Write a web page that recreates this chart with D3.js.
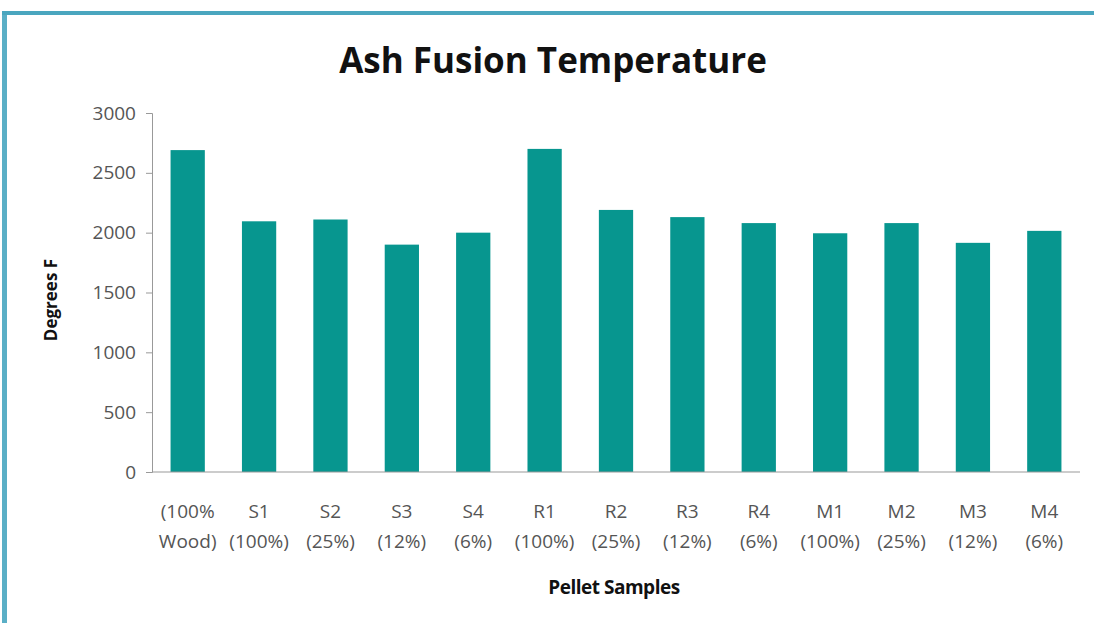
<!DOCTYPE html>
<html>
<head>
<meta charset="utf-8" />
<style>
body {
	margin: 0;
	background: #fff;
	font-family: "Open Sans", Arial;
}
.tick text {
	fill: #555;
	font-size: 19px;
}
.bar {
	fill: #07968f;
}
</style>
</head>
<body>
<script src="https://d3js.org/d3.v7.min.js"></script>
<script>
var samples = ["(100% Wood)", "S1 (100%)", "S2 (25%)", "S3 (12%)", "S4 (6%)",
    "R1 (100%)", "R2 (25%)", "R3 (12%)", "R4 (6%)",
    "M1 (100%)", "M2 (25%)", "M3 (12%)", "M4 (6%)"];
var labelTop = ["(100%", "S1", "S2", "S3", "S4", "R1", "R2", "R3", "R4", "M1", "M2", "M3", "M4"];
var labelBottom = ["Wood)", "(100%)", "(25%)", "(12%)", "(6%)", "(100%)", "(25%)", "(12%)", "(6%)", "(100%)", "(25%)", "(12%)", "(6%)"];
var degrees = [2690, 2095, 2110, 1900, 2000, 2700, 2190, 2130, 2080, 1995, 2080, 1915, 2015];
var yTicks = [0, 500, 1000, 1500, 2000, 2500, 3000];

var W = 1094, H = 623;
var plotLeft = 152, plotRight = 1080, plotTop = 113, plotBottom = 472;

var svg = d3.select("body").append("svg")
	.attr("width", W)
	.attr("height", H);

// frame edges
svg.append("rect").attr("x", 2).attr("y", 11).attr("width", 5).attr("height", H - 11).attr("fill", "#5aafc6");
svg.append("rect").attr("x", 2).attr("y", 11).attr("width", W - 2).attr("height", 4).attr("fill", "#4aa6bf");

svg.append("text")
	.attr("x", 553)
	.attr("y", 73)
	.attr("text-anchor", "middle")
	.attr("font-size", 35)
	.attr("font-weight", "bold")
	.attr("fill", "#111")
	.text("Ash Fusion Temperature");

var x = d3.scaleBand()
	.domain(samples)
	.range([plotLeft, plotRight])
	.paddingInner(0.52)
	.paddingOuter(0.26);

var y = d3.scaleLinear()
	.domain([0, 3000])
	.range([plotBottom, plotTop]);

var yAxis = svg.append("g")
	.attr("transform", "translate(" + plotLeft + ",0)")
	.call(d3.axisLeft(y).tickValues(yTicks).tickFormat(d3.format("d")).tickSize(6).tickPadding(10));
yAxis.attr("font-family", "'Open Sans', Arial");
yAxis.selectAll("line, path").attr("stroke", "#999");

svg.selectAll(".bar")
	.data(degrees)
	.enter().append("rect")
	.attr("class", "bar")
	.attr("x", function(d, i) { return x(samples[i]); })
	.attr("width", x.bandwidth())
	.attr("y", function(d) { return y(d); })
	.attr("height", function(d) { return plotBottom - y(d); });

svg.append("line")
	.attr("x1", plotLeft).attr("x2", plotRight)
	.attr("y1", plotBottom).attr("y2", plotBottom)
	.attr("stroke", "#999");

var xLabels = svg.append("g")
	.attr("font-size", 19)
	.attr("fill", "#555")
	.attr("text-anchor", "middle");

for (var i = 0; i < samples.length; i++) {
	var cx = x(samples[i]) + x.bandwidth() / 2;
	xLabels.append("text").attr("x", cx).attr("y", 518).text(labelTop[i]);
	xLabels.append("text").attr("x", cx).attr("y", 548).text(labelBottom[i]);
}

svg.append("text")
	.attr("x", 614)
	.attr("y", 594)
	.attr("text-anchor", "middle")
	.attr("font-size", 19)
	.attr("font-weight", "bold")
	.attr("letter-spacing", -0.5)
	.attr("fill", "#111")
	.text("Pellet Samples");

svg.append("text")
	.attr("transform", "translate(57,300) rotate(-90)")
	.attr("text-anchor", "middle")
	.attr("font-size", 17)
	.attr("font-weight", "bold")
	.attr("fill", "#111")
	.text("Degrees F");
</script>
</body>
</html>
